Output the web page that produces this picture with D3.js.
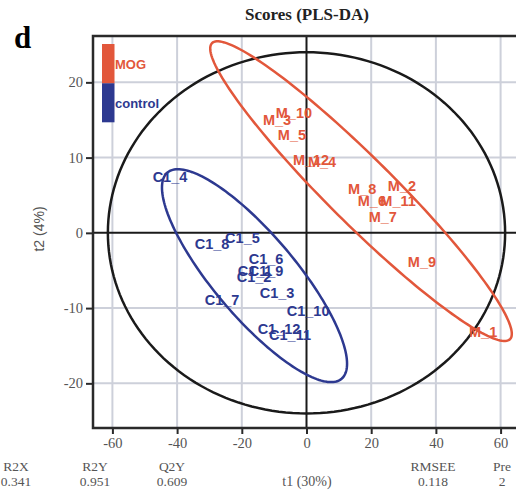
<!DOCTYPE html>
<html>
<head>
<meta charset="utf-8">
<script src="https://cdn.jsdelivr.net/npm/d3@7"></script>
<style>
  body { margin: 0; background: #fff; }
  svg { display: block; }
</style>
</head>
<body>
<svg id="chart" width="516" height="497"></svg>
<script>
// score labels and t1/t2 values
const mogLabels = ['M_1', 'M_2', 'M_3', 'M_4', 'M_5', 'M_6', 'M_7', 'M_8', 'M_9', 'M_10', 'M_11', 'M_12'];
const mogT1 = [54.6, 29.5, -9.1, 4.8, -4.5, 20.2, 23.6, 17.2, 35.7, -3.9, 28.3, 1.4];
const mogT2 = [-13.2, 6.3, 15.0, 9.4, 13.0, 4.2, 2.2, 5.9, -3.9, 15.9, 4.2, 9.7];

const ctrlLabels = ['C1_1', 'C1_2', 'C1_3', 'C1_4', 'C1_5', 'C1_6', 'C1_7', 'C1_8', 'C1_9', 'C1_10', 'C1_11', 'C1_12'];
const ctrlT1 = [-15.9, -16.2, -9.1, -42.2, -19.8, -12.5, -26.1, -29.2, -12.5, 0.5, -5.1, -8.5];
const ctrlT2 = [-5.0, -5.9, -8.0, 7.4, -0.6, -3.5, -8.9, -1.5, -5.0, -10.3, -13.6, -12.7];

// group ellipses: centre, semi-axis vectors (t1, t2 units)
const mogEllipse = {c: [16.85, 5.54], u: [46.06, -19.67], v: [-7.19, -3.11]};
const ctrlEllipse = {c: [-16.07, -5.69], u: [26.92, -13.70], v: [-9.68, -3.52]};
// Hotelling T2 (95%)
const hotelling = {c: [0, 0], u: [61.4, 0], v: [0, 24]};

const xTicks = [-60, -40, -20, 0, 20, 40, 60];
const yTicks = [-20, -10, 0, 10, 20];

const statNames = ['R2X', 'R2Y', 'Q2Y', 'RMSEE', 'Pre'];
const statValues = ['0.341', '0.951', '0.609', '0.118', '2'];

const RED = '#e2573b';
const BLUE = '#2d3990';
const GRID = '#cdd0da';

const svg = d3.select('#chart');

const pLeft = 93, pRight = 520, pTop = 36, pBottom = 428;
const x = d3.scaleLinear().domain([-66, 66]).range([pLeft, pRight]);
const y = d3.scaleLinear().domain([-26, 26]).range([pBottom + 0.5, pTop + 1.2]);

svg.append('defs').append('clipPath').attr('id', 'clip')
    .append('rect')
    .attr('x', pLeft).attr('y', pTop)
    .attr('width', pRight - pLeft).attr('height', pBottom - pTop);

const plot = svg.append('g').attr('clip-path', 'url(#clip)');

// grid
plot.selectAll('line.gx')
    .data(xTicks.filter((d) => d !== 0))
    .enter().append('line')
    .attr('x1', (d) => x(d)).attr('x2', (d) => x(d))
    .attr('y1', pTop).attr('y2', pBottom)
    .attr('stroke', GRID).attr('stroke-width', 2);
plot.selectAll('line.gy')
    .data(yTicks.filter((d) => d !== 0))
    .enter().append('line')
    .attr('x1', pLeft).attr('x2', pRight)
    .attr('y1', (d) => y(d)).attr('y2', (d) => y(d))
    .attr('stroke', GRID).attr('stroke-width', 2);

// zero lines
plot.append('line')
    .attr('x1', x(0)).attr('x2', x(0)).attr('y1', pTop).attr('y2', pBottom)
    .attr('stroke', '#1a1a1a').attr('stroke-width', 2);
plot.append('line')
    .attr('x1', pLeft).attr('x2', pRight).attr('y1', y(0)).attr('y2', y(0))
    .attr('stroke', '#1a1a1a').attr('stroke-width', 2);

const ellipsePath = (e) => {
    const pts = d3.range(0, 360, 2).map((deg) => {
        const t = deg * Math.PI / 180;
        return [
            x(e.c[0] + e.u[0] * Math.cos(t) + e.v[0] * Math.sin(t)),
            y(e.c[1] + e.u[1] * Math.cos(t) + e.v[1] * Math.sin(t)),
        ];
    });
    return d3.line().curve(d3.curveLinearClosed)(pts);
};

plot.append('path').attr('d', ellipsePath(hotelling))
    .attr('fill', 'none').attr('stroke', '#1a1a1a').attr('stroke-width', 2.5);
plot.append('path').attr('d', ellipsePath(mogEllipse))
    .attr('fill', 'none').attr('stroke', RED).attr('stroke-width', 2.5);
plot.append('path').attr('d', ellipsePath(ctrlEllipse))
    .attr('fill', 'none').attr('stroke', BLUE).attr('stroke-width', 2.5);

// point labels (they overlap in the original too)
const drawLabels = (labels, t1, t2, color) => {
    plot.append('g').selectAll('text')
        .data(labels)
        .enter().append('text')
        .attr('x', (d, i) => x(t1[i]))
        .attr('y', (d, i) => y(t2[i]))
        .attr('dy', '0.36em')
        .attr('text-anchor', 'middle')
        .attr('font-family', 'Liberation Sans, Arial, sans-serif')
        .attr('font-size', 14.5)
        .attr('font-weight', 'bold')
        .attr('fill', color)
        .text((d) => d);
};
drawLabels(ctrlLabels, ctrlT1, ctrlT2, BLUE);
drawLabels(mogLabels, mogT1, mogT2, RED);

// legend
const legend = svg.append('g');
legend.append('rect').attr('x', 102).attr('y', 44).attr('width', 12.5).attr('height', 39.5).attr('fill', RED);
legend.append('rect').attr('x', 102).attr('y', 83.3).attr('width', 12.5).attr('height', 39).attr('fill', BLUE);
legend.append('text').attr('x', 115).attr('y', 69)
    .attr('font-family', 'Liberation Sans, Arial, sans-serif').attr('font-size', 13)
    .attr('font-weight', 'bold').attr('fill', RED).text('MOG');
legend.append('text').attr('x', 115).attr('y', 108)
    .attr('font-family', 'Liberation Sans, Arial, sans-serif').attr('font-size', 13)
    .attr('font-weight', 'bold').attr('fill', BLUE).text('control');

// frame
svg.append('path')
    .attr('d', `M${pRight + 5},${pTop}H${pLeft}V${pBottom}H${pRight + 5}`)
    .attr('fill', 'none').attr('stroke', '#2a2a2a').attr('stroke-width', 2.5);

// axes (plain hyphen for negatives, as in the original)
const xAxis = svg.append('g')
    .attr('transform', `translate(0,${pBottom})`)
    .call(d3.axisBottom(x).tickValues(xTicks).tickFormat((d) => String(d)).tickSize(6).tickPadding(4));
const yAxis = svg.append('g')
    .attr('transform', `translate(${pLeft},0)`)
    .call(d3.axisLeft(y).tickValues(yTicks).tickFormat((d) => String(d)).tickSize(7).tickPadding(3));
[xAxis, yAxis].forEach((ax) => {
    ax.select('.domain').remove();
    ax.selectAll('.tick line').attr('stroke', '#2a2a2a').attr('stroke-width', 2);
    ax.selectAll('.tick text')
        .attr('font-family', 'Liberation Serif, Times New Roman, serif')
        .attr('font-size', 14.5).attr('fill', '#555');
});

// titles
svg.append('text').attr('x', 307).attr('y', 20).attr('text-anchor', 'middle')
    .attr('font-family', 'Liberation Serif, Times New Roman, serif')
    .attr('font-size', 17).attr('font-weight', 'bold').attr('fill', '#222')
    .text('Scores (PLS-DA)');
svg.append('text').attr('x', 14).attr('y', 48)
    .attr('font-family', 'Liberation Serif, Times New Roman, serif')
    .attr('font-size', 31).attr('font-weight', 'bold').attr('fill', '#000')
    .text('d');
svg.append('text')
    .attr('transform', 'translate(44,229) rotate(-90)')
    .attr('text-anchor', 'middle')
    .attr('font-family', 'Liberation Sans, Arial, sans-serif')
    .attr('font-size', 14).attr('fill', '#555')
    .text('t2 (4%)');
svg.append('text').attr('x', 307).attr('y', 486).attr('text-anchor', 'middle')
    .attr('font-family', 'Liberation Serif, Times New Roman, serif')
    .attr('font-size', 14).attr('fill', '#555')
    .text('t1 (30%)');

// model statistics under the axis
const statX = [16, 95, 172, 433, 502];
const stats = svg.append('g')
    .attr('font-family', 'Liberation Serif, Times New Roman, serif')
    .attr('font-size', 13.5).attr('fill', '#555').attr('text-anchor', 'middle');
stats.selectAll('text.name')
    .data(statNames)
    .enter().append('text')
    .attr('x', (d, i) => statX[i]).attr('y', 471)
    .text((d) => d);
stats.selectAll('text.value')
    .data(statValues)
    .enter().append('text')
    .attr('x', (d, i) => statX[i]).attr('y', 486)
    .text((d) => d);
</script>
</body>
</html>
